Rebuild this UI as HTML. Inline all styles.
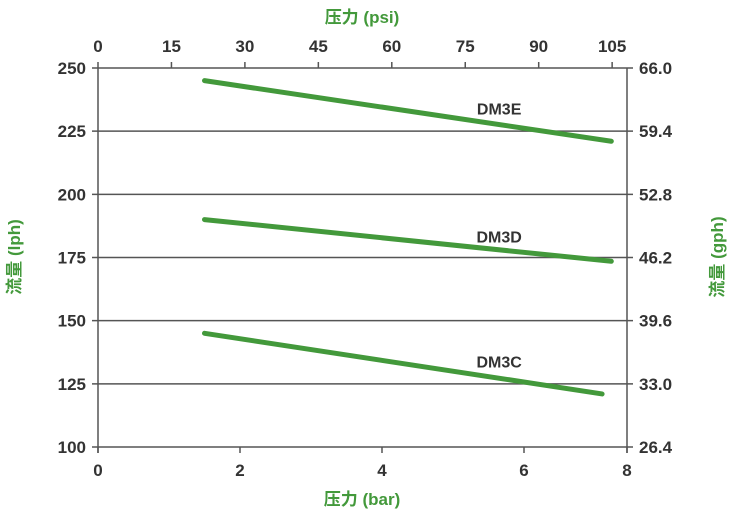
<!DOCTYPE html>
<html><head><meta charset="utf-8"><style>
body{margin:0;background:#fff;}
svg text{font-family:"Liberation Sans","Noto Sans CJK SC",sans-serif;font-weight:bold;}
</style></head><body>
<svg id="chart" width="735" height="517" xmlns="http://www.w3.org/2000/svg"></svg>
<script>
const barTicks=[0,2,4,6,8];
const psiTicks=[0,15,30,45,60,75,90,105];
const lphTicks=[100,125,150,175,200,225,250];
const gphTicks=["26.4","33.0","39.6","46.2","52.8","59.4","66.0"];
const seriesNames=["DM3E","DM3D","DM3C"];
const seriesStartX=[1.5,1.5,1.5];
const seriesEndX=[7.23,7.23,7.1];
const seriesStartY=[245,190,145];
const seriesEndY=[221,173.5,121];
const labelX=[5.65,5.65,5.65];
const labelY=[231.5,181,131.5];

const X0=98,X1=627,Y0=447,Y1=68,PX=71;
const xs=v=>Math.min(X0+v*PX,X1);
const ys=v=>Y0-(v-100)/150*(Y0-Y1);
const psiX=v=>X0+(v/14.5)*PX;
const svg=document.getElementById('chart');
const NS="http://www.w3.org/2000/svg";
function mk(tag,attrs,txt){const e=document.createElementNS(NS,tag);for(const k in attrs)e.setAttribute(k,attrs[k]);if(txt!==undefined)e.textContent=txt;svg.appendChild(e);return e;}
const axc="#555",tc="#333",green="#43993b";
lphTicks.forEach((v,i)=>{
  const g=mk('line',{x1:X0-6,x2:X1+6,y1:ys(v),y2:ys(v),stroke:axc,'stroke-width':1.5});
  
  
  const t=mk('text',{x:X0-12,y:ys(v)+6,'text-anchor':'end','font-size':17,fill:tc},String(v));
  
  
  const t2=mk('text',{x:X1+12,y:ys(v)+6,'text-anchor':'start','font-size':17,fill:tc},gphTicks[i]);
  
  
});
[X0,X1].forEach((x,i)=>{const l=mk('line',{x1:x,x2:x,y1:Y1,y2:Y0+6,stroke:axc,'stroke-width':1.5});

});
barTicks.forEach(v=>{
  mk('line',{x1:xs(v),x2:xs(v),y1:Y0,y2:Y0+6,stroke:axc,'stroke-width':1.5});
  const t=mk('text',{x:xs(v),y:Y0+29,'text-anchor':'middle','font-size':17,fill:tc},String(v));
  
  
});
psiTicks.forEach(v=>{
  mk('line',{x1:psiX(v),x2:psiX(v),y1:Y1-6,y2:Y1,stroke:axc,'stroke-width':1.5});
  const t=mk('text',{x:psiX(v),y:Y1-16,'text-anchor':'middle','font-size':17,fill:tc},String(v));
  
  
});
seriesNames.forEach((n,i)=>{
  const l=mk('line',{x1:xs(seriesStartX[i]),y1:ys(seriesStartY[i]),x2:xs(seriesEndX[i]),y2:ys(seriesEndY[i]),stroke:green,'stroke-width':5,'stroke-linecap':'round'});
  
  
  const t=mk('text',{x:xs(labelX[i]),y:ys(labelY[i]),'text-anchor':'middle','font-size':16,fill:tc},n);
  
  
});
let t=mk('text',{x:362,y:23,'text-anchor':'middle','font-size':17,fill:green},'压力 (psi)');


t=mk('text',{x:362,y:505,'text-anchor':'middle','font-size':17,fill:green},'压力 (bar)');


t=mk('text',{x:0,y:0,'text-anchor':'middle','font-size':17,fill:green,transform:'translate(20,257) rotate(-90)'},'流量 (lph)');


t=mk('text',{x:0,y:0,'text-anchor':'middle','font-size':17,fill:green,transform:'translate(723,257) rotate(-90)'},'流量 (gph)');


</script>
</body></html>
